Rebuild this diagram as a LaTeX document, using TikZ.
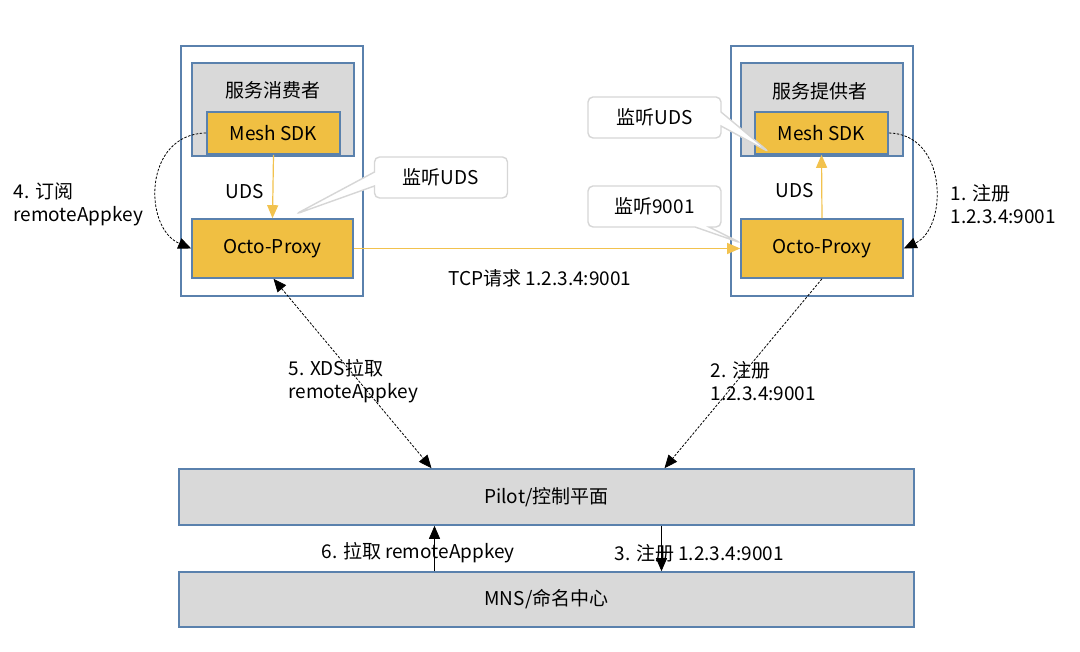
\documentclass[tikz,border=0pt]{standalone}
\usepackage{fontspec}
\setmainfont{Noto Sans CJK SC}
\usetikzlibrary{arrows.meta,shapes.callouts}
\definecolor{boxblue}{HTML}{5A81AD}
\definecolor{proxyyellow}{HTML}{F0BF42}
\definecolor{panelgray}{HTML}{D9D9D9}
\definecolor{bubblegray}{HTML}{D6D6D6}
\definecolor{udsyellow}{HTML}{F2C24E}

\begin{document}
\begin{tikzpicture}[x=1pt, y=1pt, font=\fontsize{19}{23}\selectfont,
    hostbox/.style={draw=boxblue, line width=1.6pt, fill=white, inner sep=0pt},
    panel/.style={draw=boxblue, line width=1.6pt, fill=panelgray, inner sep=0pt},
    yellowbox/.style={draw=boxblue, line width=1.6pt, fill=proxyyellow, inner sep=0pt},
    bubble/.style={rectangle callout, draw=bubblegray, line width=1.4pt, fill=white,
        rounded corners=5pt, minimum width=133, minimum height=41, callout pointer width=14pt},
    udsline/.style={draw=udsyellow, line width=1.2pt, -{Triangle[width=11pt,length=13pt]}},
    dashline/.style={dash pattern=on 2.5pt off 1.5pt, line width=0.8pt},
    blacktip/.tip={Triangle[width=11pt,length=13pt]},
    lbl/.style={align=left, anchor=west}]
        \useasboundingbox (0,0) rectangle (1080,652);
        % service consumer side
        \node[hostbox, minimum width=182, minimum height=250] (consumer) at (272,481) {};
        \node[panel, minimum width=162, minimum height=93] (consumerpanel) at (273,542.5) {};
        \node (consumertitle) at (273,562) {服务消费者};
        \node[yellowbox, minimum width=133, minimum height=42] (consumersdk) at (273.5,519) {Mesh SDK};
        \node[yellowbox, minimum width=161, minimum height=59] (consumerproxy) at (272.5,403.5) {Octo-Proxy};
        % service provider side
        \node[hostbox, minimum width=182, minimum height=250] (provider) at (822,481) {};
        \node[panel, minimum width=162, minimum height=93] (providerpanel) at (822,542.5) {};
        \node (providertitle) at (820,561) {服务提供者};
        \node[yellowbox, minimum width=133, minimum height=42] (providersdk) at (821.5,519) {Mesh SDK};
        \node[yellowbox, minimum width=162, minimum height=59] (providerproxy) at (822,403.5) {Octo-Proxy};
        % control plane and naming
        \node[panel, minimum width=735, minimum height=56] (pilot) at (546.5,155) {Pilot/控制平面};
        \node[panel, minimum width=735, minimum height=55] (mns) at (546.5,52.5) {MNS/命名中心};
        % callouts
        \coordinate (tipuds) at (296,438);
        \coordinate (tipsdk) at (769,500);
        \coordinate (tipport) at (741,409);
        \node[bubble, callout absolute pointer=(tipuds)] (listenuds) at (441,474.5) {监听UDS};
        \node[bubble, callout absolute pointer=(tipsdk)] (listensdk) at (654.5,534.5) {监听UDS};
        \node[bubble, callout absolute pointer=(tipport)] (listenport) at (654.5,445.5) {监听9001};
        % data path
        \draw[udsline] (consumersdk.south) -- (consumerproxy.north);
        \draw[udsline] (providerproxy.north) -- (providersdk.south);
        \draw[udsline] (consumerproxy.east) -- (providerproxy.west);
        \node (udsleft) at (245,460) {UDS};
        \node (udsright) at (795,461) {UDS};
        \node (tcplabel) at (540,374) {TCP请求 1.2.3.4:9001};
        % control path
        \draw[dashline, -blacktip] (consumersdk.west) .. controls (143,518) and (143,424) .. (consumerproxy.west);
        \draw[dashline, -blacktip] (providersdk.east) .. controls (948,518) and (948,424) .. (providerproxy.east);
        \draw[dashline, blacktip-blacktip] ([xshift=1pt]consumerproxy.south) -- ([xshift=-115pt]pilot.north);
        \draw[dashline, -blacktip] (providerproxy.south) -- ([xshift=118pt]pilot.north);
        \draw[line width=0.8pt, -blacktip] ([xshift=-112pt]mns.north) -- ([xshift=-112pt]pilot.south);
        \draw[line width=0.8pt, -blacktip] ([xshift=115pt]pilot.south) -- ([xshift=115pt]mns.north);
        \node[lbl] (step4) at (10,448) {4. 订阅\\remoteAppkey};
        \node[lbl] (step1) at (947,448) {1. 注册\\1.2.3.4:9001};
        \node[lbl] (step5) at (285,270.5) {5. XDS拉取\\remoteAppkey};
        \node[lbl] (step2) at (707,270.5) {2. 注册\\1.2.3.4:9001};
        \node[lbl] (step6) at (318,99) {6. 拉取 remoteAppkey};
        \node[lbl] (step3) at (611,99) {3. 注册 1.2.3.4:9001};
    \end{tikzpicture}
\end{document}
